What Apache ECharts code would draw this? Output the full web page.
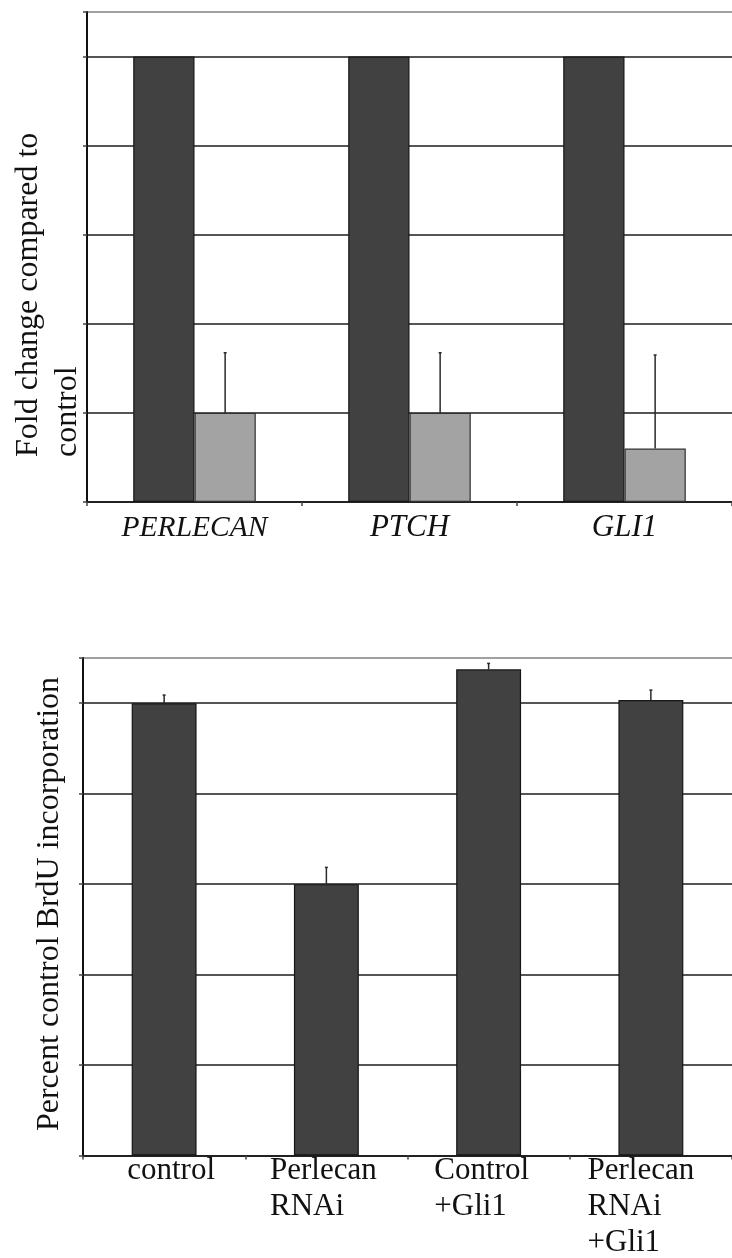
<!DOCTYPE html>
<html>
<head>
<meta charset="utf-8">
<script src="https://cdn.jsdelivr.net/npm/echarts@6/dist/echarts.min.js"></script>
<style>
  html, body { margin: 0; padding: 0; background: #fff; }
  #chart { width: 732px; height: 1258px; }
</style>
</head>
<body>
<div id="chart"></div>
<script>
// Panel A: transcript fold change (dark = control, light = perlecan knockdown)
const genes = ['PERLECAN', 'PTCH', 'GLI1'];
const foldControl = [1.0, 1.0, 1.0];
const foldKnockdown = [0.2, 0.2, 0.12];
const foldKnockdownErr = [0.135, 0.135, 0.21];

// Panel B: BrdU incorporation, percent of control
const conditions = ['control', 'Perlecan\nRNAi', 'Control\n+Gli1', 'Perlecan\nRNAi\n+Gli1'];
const brduPercent = [100, 60, 107.5, 100.7];
const brduErr = [1.8, 3.7, 1.3, 2.2];
// horizontal nudge of each condition label block (px)
const conditionShift = [7, -3, -7, -10];

const SERIF = '"Liberation Serif", "DejaVu Serif", serif';
const DARK = '#414141';
const LIGHT = '#a3a3a3';
const GRID = '#555555';

const chart = echarts.init(document.getElementById('chart'), null, { renderer: 'canvas' });

// upper whisker of an error bar, offset sideways by a fraction of the band
function whisker(offsetFrac) {
  return function (params, api) {
    const band = api.size([1, 0])[0];
    const base = api.coord([api.value(0), api.value(1)]);
    const top = api.coord([api.value(0), api.value(2)]);
    const x = base[0] + band * offsetFrac;
    const st = { stroke: '#2a2a2a', lineWidth: 1.5 };
    return {
      type: 'group',
      children: [
        { type: 'line', shape: { x1: x, y1: base[1], x2: x, y2: top[1] }, style: st },
        { type: 'line', shape: { x1: x - 1.5, y1: top[1], x2: x + 1.5, y2: top[1] }, style: st }
      ]
    };
  };
}

const TOP_GAP = 0.43;

chart.setOption({
  animation: false,
  backgroundColor: '#ffffff',
  grid: [
    { left: 87, right: -6, top: 12, height: 490, containLabel: false },
    { left: 83, right: -8, top: 658, height: 499, containLabel: false }
  ],
  xAxis: [
    {
      gridIndex: 0, type: 'category', data: genes,
      axisLine: { lineStyle: { color: '#111', width: 1.5 } },
      axisTick: { show: true, length: 4, lineStyle: { color: '#444', width: 1.5 } },
      axisLabel: {
        margin: 8,
        formatter: (v, i) => (i === 0 ? '{s|' + v + '}' : '{l|' + v + '}'),
        rich: {
          s: { fontFamily: SERIF, fontStyle: 'italic', fontSize: 29.5, lineHeight: 36, color: '#111' },
          l: { fontFamily: SERIF, fontStyle: 'italic', fontSize: 31, lineHeight: 36, color: '#111' }
        }
      }
    },
    {
      gridIndex: 1, type: 'category',
      data: conditions.map((c, i) => ({
        value: c,
        textStyle: {
          padding: conditionShift[i] >= 0
            ? [0, 0, 0, 2 * conditionShift[i]]
            : [0, -2 * conditionShift[i], 0, 0]
        }
      })),
      axisLine: { lineStyle: { color: '#111', width: 1.5 } },
      axisTick: { show: true, length: 4, lineStyle: { color: '#444', width: 1.5 } },
      axisLabel: {
        margin: -3,
        formatter: v => v.split('\n').map(s => '{a|' + s + '}').join('\n'),
        rich: {
          a: { align: 'left', fontFamily: SERIF, fontSize: 31, lineHeight: 36, color: '#111' }
        }
      }
    }
  ],
  yAxis: [
    {
      gridIndex: 0, type: 'value', min: 0, max: 1.1, interval: 0.2,
      axisLine: { show: true, lineStyle: { color: '#111', width: 2 } },
      axisTick: { show: true, length: 4, lineStyle: { color: '#444', width: 1.5 } },
      axisLabel: { show: false },
      splitLine: { show: true, lineStyle: { color: [GRID, GRID, GRID, GRID, GRID, GRID, '#a0a0a0'], width: 2 } }
    },
    {
      gridIndex: 1, type: 'value', min: 0, max: 110, interval: 20,
      axisLine: { show: true, lineStyle: { color: '#111', width: 2 } },
      axisTick: { show: true, length: 4, lineStyle: { color: '#444', width: 1.5 } },
      axisLabel: { show: false },
      splitLine: { show: true, lineStyle: { color: [GRID, GRID, GRID, GRID, GRID, GRID, '#a0a0a0'], width: 2 } }
    }
  ],
  graphic: [
    {
      type: 'text', x: 48, y: 457, rotation: Math.PI / 2,
      style: {
        text: 'Fold change compared to\ncontrol',
        font: '32px ' + SERIF, fill: '#111', lineHeight: 39,
        textAlign: 'left', textVerticalAlign: 'middle', align: 'left', verticalAlign: 'middle'
      }
    },
    {
      type: 'text', x: 50, y: 904, rotation: Math.PI / 2,
      style: {
        text: 'Percent control BrdU incorporation',
        font: '32px ' + SERIF, fill: '#111',
        textAlign: 'center', textVerticalAlign: 'middle', align: 'center', verticalAlign: 'middle'
      }
    }
  ],
  series: [
    {
      type: 'bar', xAxisIndex: 0, yAxisIndex: 0, data: foldControl,
      barGap: '0%', barCategoryGap: (TOP_GAP * 100) + '%',
      itemStyle: { color: DARK, borderColor: '#161616', borderWidth: 1.2 }
    },
    {
      type: 'bar', xAxisIndex: 0, yAxisIndex: 0, data: foldKnockdown,
      barGap: '0%', barCategoryGap: (TOP_GAP * 100) + '%',
      itemStyle: { color: LIGHT, borderColor: '#303030', borderWidth: 1.2 }
    },
    {
      type: 'custom', xAxisIndex: 0, yAxisIndex: 0, z: 5,
      renderItem: whisker((1 - TOP_GAP) / 4),
      data: foldKnockdown.map((v, i) => [i, v, v + foldKnockdownErr[i]])
    },
    {
      type: 'bar', xAxisIndex: 1, yAxisIndex: 1, data: brduPercent,
      barCategoryGap: '60%',
      itemStyle: { color: DARK, borderColor: '#161616', borderWidth: 1.2 }
    },
    {
      type: 'custom', xAxisIndex: 1, yAxisIndex: 1, z: 5,
      renderItem: whisker(0),
      data: brduPercent.map((v, i) => [i, v, v + brduErr[i]])
    }
  ]
});
</script>
</body>
</html>
